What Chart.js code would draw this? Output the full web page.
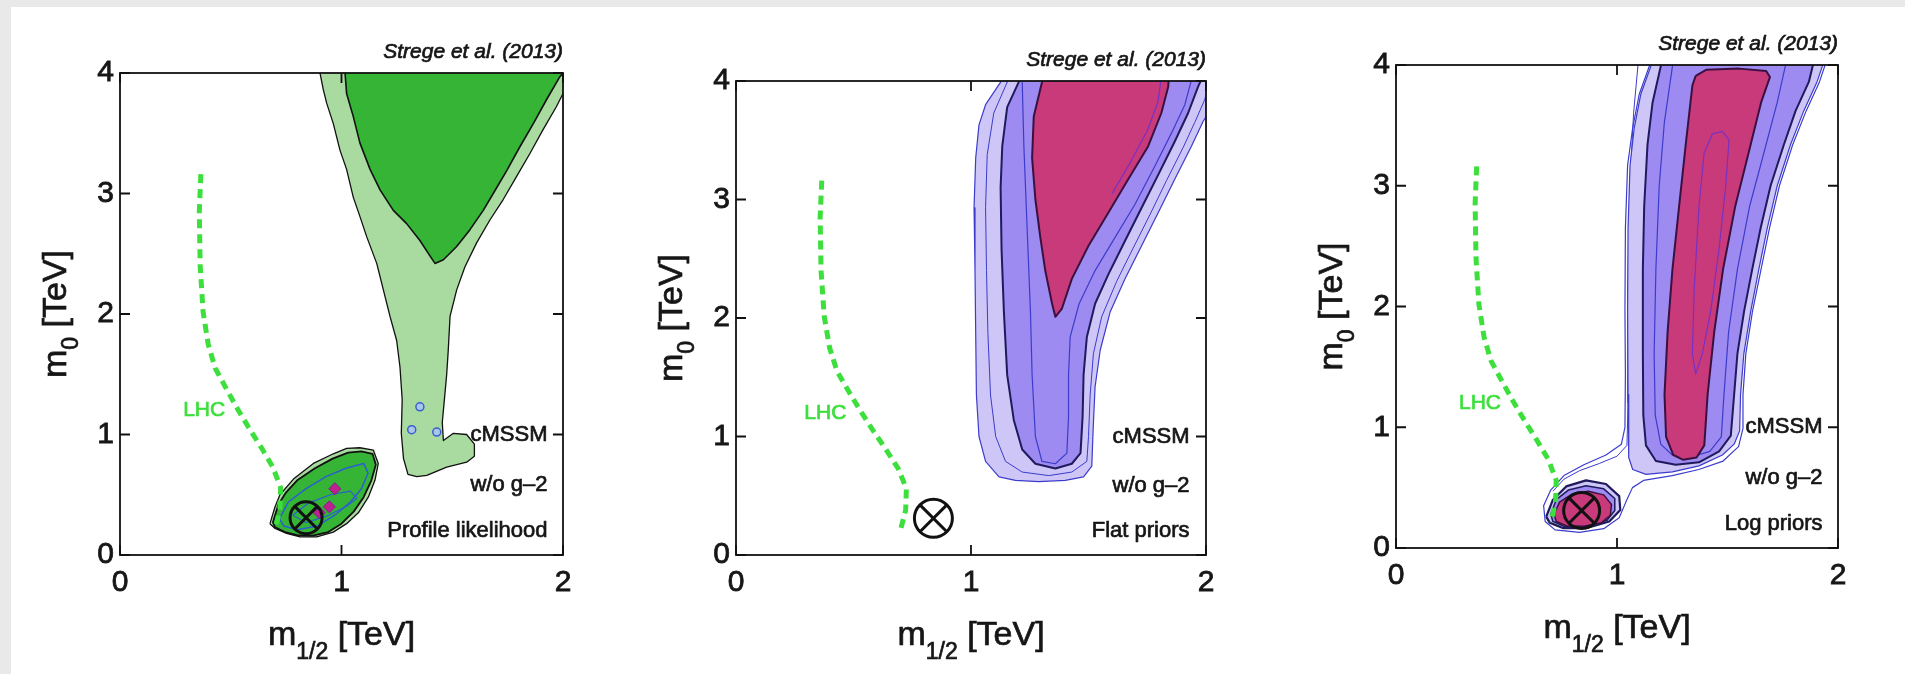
<!DOCTYPE html>
<html>
<head>
<meta charset="utf-8">
<script src="https://cdn.jsdelivr.net/npm/chart.js@4.4.1/dist/chart.umd.min.js"></script>
<style>
  html, body { margin: 0; padding: 0; background: #e9e9e9; }
  body { width: 1905px; height: 674px; position: relative; overflow: hidden; }
  .sheet { position: absolute; left: 11px; top: 7px; right: 0; bottom: 0; background: #fff; }
  canvas { position: absolute; top: 0; }
</style>
</head>
<body>
<div class="sheet"></div>
<canvas id="p1" width="583" height="674" style="left:0px"></canvas>
<canvas id="p2" width="612" height="674" style="left:616px"></canvas>
<canvas id="p3" width="583" height="674" style="left:1276px"></canvas>
<script>
// ---- axes / labels ----
const X_TICKS = [0, 1, 2];
const Y_TICKS = [0, 1, 2, 3, 4];
const NOTE_X = 1.93;
const NOTE_Y = [1.0, 0.58, 0.2];
const LHC_LABEL = { x: 0.38, y: 1.2 };
const BEST_FIT = [{ x: 0.84, y: 0.31 }];

// LHC exclusion limit (same in every panel)
const LHC_LIMIT = [
  {x:0.365,y:3.16},{x:0.358,y:2.85},{x:0.362,y:2.40},{x:0.375,y:2.02},{x:0.398,y:1.75},
  {x:0.43,y:1.55},{x:0.48,y:1.38},{x:0.525,y:1.23},{x:0.58,y:1.06},{x:0.635,y:0.90},
  {x:0.69,y:0.73},{x:0.725,y:0.56},{x:0.722,y:0.38},{x:0.70,y:0.21}
];

// ---- panel 1: profile likelihood ----
const P1_LIGHT = [
  {x:0.903,y:4.1},{x:0.903,y:4.0},{x:0.918,y:3.86},{x:0.933,y:3.75},{x:0.963,y:3.58},{x:0.993,y:3.36},
  {x:1.023,y:3.2},{x:1.053,y:2.97},{x:1.083,y:2.81},{x:1.114,y:2.64},{x:1.159,y:2.42},{x:1.189,y:2.2},
  {x:1.219,y:1.98},{x:1.249,y:1.78},{x:1.264,y:1.56},{x:1.274,y:1.29},{x:1.27,y:1.01},{x:1.28,y:0.8},
  {x:1.30,y:0.67},{x:1.34,y:0.65},{x:1.385,y:0.66},{x:1.475,y:0.73},{x:1.565,y:0.77},{x:1.60,y:0.82},
  {x:1.60,y:0.92},{x:1.565,y:1.0},{x:1.505,y:1.01},{x:1.46,y:0.95},{x:1.455,y:1.1},{x:1.465,y:1.3},
  {x:1.475,y:1.5},{x:1.482,y:1.70},{x:1.49,y:1.98},{x:1.52,y:2.2},{x:1.557,y:2.39},{x:1.61,y:2.59},
  {x:1.67,y:2.78},{x:1.73,y:2.95},{x:1.79,y:3.14},{x:1.85,y:3.33},{x:1.91,y:3.53},{x:1.97,y:3.72},
  {x:2.0,y:3.83},{x:2.05,y:3.95},{x:2.05,y:4.1}
];
const P1_DARK = [
  {x:1.016,y:4.1},{x:1.016,y:4.0},{x:1.023,y:3.83},{x:1.053,y:3.64},{x:1.083,y:3.42},{x:1.129,y:3.2},
  {x:1.174,y:3.03},{x:1.234,y:2.86},{x:1.294,y:2.75},{x:1.354,y:2.61},{x:1.40,y:2.48},{x:1.422,y:2.42},
  {x:1.46,y:2.45},{x:1.52,y:2.56},{x:1.58,y:2.70},{x:1.64,y:2.86},{x:1.685,y:3.0},{x:1.746,y:3.19},
  {x:1.806,y:3.39},{x:1.866,y:3.58},{x:1.926,y:3.78},{x:1.986,y:3.97},{x:2.05,y:4.1}
];
const P1_BLOB_LIGHT = [
  {x:0.677,y:0.26},{x:0.70,y:0.40},{x:0.722,y:0.50},{x:0.783,y:0.63},{x:0.873,y:0.76},{x:0.963,y:0.84},
  {x:1.023,y:0.885},{x:1.083,y:0.89},{x:1.144,y:0.87},{x:1.166,y:0.76},{x:1.151,y:0.62},{x:1.121,y:0.48},
  {x:1.076,y:0.35},{x:1.023,y:0.26},{x:0.963,y:0.19},{x:0.888,y:0.15},{x:0.813,y:0.15},{x:0.752,y:0.18},
  {x:0.70,y:0.22},{x:0.677,y:0.26}
];
const P1_BLOB_DARK = [
  {x:0.69,y:0.27},{x:0.715,y:0.42},{x:0.75,y:0.52},{x:0.80,y:0.62},{x:0.88,y:0.72},{x:0.96,y:0.80},
  {x:1.03,y:0.85},{x:1.09,y:0.86},{x:1.14,y:0.84},{x:1.155,y:0.75},{x:1.135,y:0.62},{x:1.10,y:0.48},
  {x:1.055,y:0.36},{x:1.0,y:0.26},{x:0.94,y:0.19},{x:0.87,y:0.16},{x:0.80,y:0.165},{x:0.745,y:0.19},
  {x:0.70,y:0.23},{x:0.69,y:0.27}
];
const P1_BLOB_RING = [
  {x:0.72,y:0.30},{x:0.76,y:0.44},{x:0.84,y:0.55},{x:0.93,y:0.65},{x:1.02,y:0.72},{x:1.10,y:0.76},
  {x:1.12,y:0.68},{x:1.09,y:0.55},{x:1.04,y:0.44},{x:0.97,y:0.33},{x:0.89,y:0.24},{x:0.80,y:0.21},
  {x:0.74,y:0.24},{x:0.72,y:0.30}
];
const P1_BLOB_CORE = [
  {x:0.78,y:0.33},{x:0.85,y:0.43},{x:0.95,y:0.50},{x:1.04,y:0.53},{x:1.07,y:0.47},{x:1.02,y:0.40},
  {x:0.93,y:0.32},{x:0.84,y:0.27},{x:0.78,y:0.33}
];
const P1_PEAKS = [{x:0.97,y:0.55},{x:0.945,y:0.40},{x:0.90,y:0.35}];
const P1_BLUE_SPOTS = [{x:1.354,y:1.23},{x:1.317,y:1.04},{x:1.43,y:1.02},{x:1.106,y:0.54}];

// ---- panel 2: flat priors ----
const P2_OUTER = [
  {x:1.126,y:4.1},{x:1.126,y:3.99},{x:1.062,y:3.80},{x:1.034,y:3.63},{x:1.02,y:3.35},{x:1.013,y:2.93},
  {x:1.017,y:2.40},{x:1.02,y:1.87},{x:1.023,y:1.35},{x:1.034,y:1.0},{x:1.062,y:0.79},{x:1.119,y:0.66},
  {x:1.189,y:0.63},{x:1.288,y:0.62},{x:1.401,y:0.63},{x:1.479,y:0.66},{x:1.514,y:0.75},{x:1.52,y:1.07},
  {x:1.528,y:1.42},{x:1.55,y:1.73},{x:1.592,y:2.05},{x:1.655,y:2.33},{x:1.726,y:2.61},{x:1.797,y:2.89},
  {x:1.867,y:3.17},{x:1.938,y:3.45},{x:1.988,y:3.66},{x:2.05,y:3.85},{x:2.05,y:4.1}
];
const P2_RING = [
  {x:1.154,y:4.1},{x:1.154,y:3.99},{x:1.097,y:3.73},{x:1.069,y:3.38},{x:1.062,y:2.93},{x:1.066,y:2.40},
  {x:1.072,y:1.87},{x:1.083,y:1.35},{x:1.105,y:1.0},{x:1.147,y:0.79},{x:1.218,y:0.70},{x:1.331,y:0.67},
  {x:1.429,y:0.70},{x:1.493,y:0.79},{x:1.50,y:1.0},{x:1.507,y:1.35},{x:1.521,y:1.70},{x:1.556,y:2.01},
  {x:1.62,y:2.31},{x:1.69,y:2.59},{x:1.761,y:2.87},{x:1.832,y:3.16},{x:1.903,y:3.44},{x:1.952,y:3.65},
  {x:1.994,y:3.84},{x:2.03,y:4.1}
];
const P2_MID = [
  {x:1.203,y:4.1},{x:1.203,y:3.99},{x:1.154,y:3.78},{x:1.133,y:3.45},{x:1.126,y:3.10},{x:1.13,y:2.58},
  {x:1.14,y:2.05},{x:1.154,y:1.52},{x:1.182,y:1.14},{x:1.218,y:0.89},{x:1.274,y:0.77},{x:1.359,y:0.73},
  {x:1.429,y:0.77},{x:1.466,y:0.86},{x:1.475,y:1.17},{x:1.479,y:1.52},{x:1.493,y:1.84},{x:1.528,y:2.12},
  {x:1.585,y:2.37},{x:1.655,y:2.65},{x:1.726,y:2.93},{x:1.797,y:3.21},{x:1.867,y:3.49},{x:1.924,y:3.73},
  {x:1.966,y:3.95},{x:2.0,y:4.1}
];
const P2_MID_LINE = [
  {x:1.218,y:4.1},{x:1.218,y:3.99},{x:1.225,y:3.45},{x:1.239,y:2.75},{x:1.253,y:2.05},{x:1.26,y:1.52},
  {x:1.274,y:1.0},{x:1.302,y:0.79},{x:1.359,y:0.77},{x:1.408,y:0.86},{x:1.415,y:1.17},{x:1.415,y:1.52},
  {x:1.422,y:1.84},{x:1.46,y:2.12},{x:1.528,y:2.40},{x:1.613,y:2.68},{x:1.698,y:2.96},{x:1.782,y:3.28},
  {x:1.853,y:3.56},{x:1.91,y:3.80},{x:1.95,y:4.1}
];
const P2_CORE = [
  {x:1.302,y:4.1},{x:1.302,y:3.99},{x:1.267,y:3.70},{x:1.26,y:3.35},{x:1.274,y:3.0},{x:1.295,y:2.68},
  {x:1.316,y:2.40},{x:1.345,y:2.12},{x:1.359,y:2.01},{x:1.387,y:2.08},{x:1.429,y:2.33},{x:1.50,y:2.61},
  {x:1.585,y:2.89},{x:1.669,y:3.17},{x:1.754,y:3.45},{x:1.81,y:3.73},{x:1.839,y:3.95},{x:1.845,y:4.1}
];
const P2_CORE_LINE = [{x:1.60,y:3.05},{x:1.68,y:3.32},{x:1.75,y:3.58},{x:1.795,y:3.82},{x:1.815,y:4.1}];

// ---- panel 3: log priors ----
const P3_ENVELOPE = [
  {x:1.146,y:4.1},{x:1.146,y:3.99},{x:1.101,y:3.76},{x:1.071,y:3.48},{x:1.048,y:3.17},{x:1.038,y:2.65},
  {x:1.036,y:1.96},{x:1.038,y:1.44},{x:1.036,y:1.0},{x:1.02,y:0.86},{x:0.95,y:0.77},{x:0.85,y:0.69},
  {x:0.76,y:0.60},{x:0.70,y:0.48},{x:0.668,y:0.35},{x:0.675,y:0.22},{x:0.72,y:0.15},{x:0.83,y:0.13},
  {x:0.94,y:0.16},{x:1.01,y:0.25},{x:1.04,y:0.38},{x:1.07,y:0.50},{x:1.12,y:0.56},{x:1.25,y:0.60},
  {x:1.37,y:0.65},{x:1.48,y:0.72},{x:1.55,y:0.84},{x:1.57,y:0.99},{x:1.57,y:1.27},{x:1.583,y:1.61},
  {x:1.613,y:1.96},{x:1.652,y:2.31},{x:1.69,y:2.65},{x:1.735,y:3.0},{x:1.795,y:3.34},{x:1.856,y:3.62},
  {x:1.916,y:3.86},{x:1.96,y:4.1}
];
const P3_SHELL = [
  {x:1.10,y:4.1},{x:1.075,y:3.6},{x:1.058,y:3.0},{x:1.05,y:2.2},{x:1.05,y:1.2},{x:1.045,y:0.85},
  {x:1.0,y:0.76},{x:0.92,y:0.70},{x:0.83,y:0.64},{x:0.76,y:0.57},{x:0.71,y:0.47}
];
const P3_LIGHT = [
  {x:1.153,y:4.1},{x:1.153,y:3.99},{x:1.108,y:3.76},{x:1.078,y:3.48},{x:1.059,y:3.17},{x:1.05,y:2.65},
  {x:1.048,y:1.96},{x:1.05,y:1.27},{x:1.053,y:0.75},{x:1.071,y:0.65},{x:1.131,y:0.61},{x:1.251,y:0.63},
  {x:1.371,y:0.68},{x:1.477,y:0.77},{x:1.53,y:0.86},{x:1.555,y:0.97},{x:1.559,y:1.27},{x:1.574,y:1.61},
  {x:1.605,y:1.96},{x:1.642,y:2.31},{x:1.68,y:2.65},{x:1.725,y:3.0},{x:1.785,y:3.34},{x:1.845,y:3.62},
  {x:1.905,y:3.86},{x:1.95,y:4.1}
];
const P3_MID = [
  {x:1.198,y:4.1},{x:1.198,y:3.99},{x:1.161,y:3.69},{x:1.138,y:3.34},{x:1.123,y:2.83},{x:1.117,y:2.31},
  {x:1.117,y:1.61},{x:1.119,y:1.10},{x:1.131,y:0.85},{x:1.176,y:0.72},{x:1.266,y:0.69},{x:1.371,y:0.71},
  {x:1.462,y:0.80},{x:1.515,y:0.93},{x:1.53,y:1.27},{x:1.545,y:1.61},{x:1.575,y:1.96},{x:1.612,y:2.31},
  {x:1.65,y:2.65},{x:1.695,y:3.0},{x:1.755,y:3.34},{x:1.808,y:3.62},{x:1.868,y:3.86},{x:1.90,y:4.1}
];
const P3_MID_LINE = [
  {x:1.251,y:4.1},{x:1.251,y:3.99},{x:1.214,y:3.52},{x:1.191,y:3.0},{x:1.176,y:2.31},{x:1.168,y:1.61},
  {x:1.173,y:1.10},{x:1.198,y:0.86},{x:1.25,y:0.77},{x:1.33,y:0.75},{x:1.42,y:0.80},{x:1.472,y:0.92},
  {x:1.484,y:1.27},{x:1.505,y:1.79},{x:1.545,y:2.31},{x:1.60,y:2.83},{x:1.66,y:3.24},{x:1.725,y:3.69},
  {x:1.775,y:4.1}
];
const P3_CORE = [
  {x:1.356,y:3.91},{x:1.341,y:3.83},{x:1.311,y:3.34},{x:1.281,y:2.83},{x:1.251,y:2.31},{x:1.229,y:1.79},
  {x:1.215,y:1.27},{x:1.222,y:0.92},{x:1.255,y:0.77},{x:1.30,y:0.73},{x:1.36,y:0.75},{x:1.395,y:0.85},
  {x:1.41,y:1.27},{x:1.44,y:1.79},{x:1.48,y:2.31},{x:1.535,y:2.83},{x:1.595,y:3.27},{x:1.652,y:3.69},
  {x:1.692,y:3.90},{x:1.675,y:3.95},{x:1.552,y:3.97},{x:1.403,y:3.96},{x:1.356,y:3.91}
];
const P3_CORE_LINE = [
  {x:1.477,y:3.45},{x:1.507,y:3.38},{x:1.492,y:3.0},{x:1.462,y:2.48},{x:1.424,y:1.96},{x:1.386,y:1.61},
  {x:1.356,y:1.44},{x:1.341,y:1.61},{x:1.349,y:2.13},{x:1.371,y:2.83},{x:1.394,y:3.27},{x:1.432,y:3.43},
  {x:1.477,y:3.45}
];
const P3_BLOB_LIGHT = [
  {x:0.68,y:0.26},{x:0.71,y:0.40},{x:0.77,y:0.51},{x:0.86,y:0.56},{x:0.95,y:0.53},{x:1.01,y:0.43},
  {x:1.015,y:0.315},{x:0.965,y:0.22},{x:0.86,y:0.165},{x:0.755,y:0.165},{x:0.695,y:0.21},{x:0.68,y:0.26}
];
const P3_BLOB_MID = [
  {x:0.70,y:0.28},{x:0.725,y:0.40},{x:0.78,y:0.48},{x:0.86,y:0.515},{x:0.94,y:0.49},{x:0.99,y:0.41},
  {x:0.99,y:0.31},{x:0.955,y:0.23},{x:0.86,y:0.18},{x:0.76,y:0.18},{x:0.71,y:0.22},{x:0.70,y:0.28}
];
const P3_BLOB_CORE = [
  {x:0.715,y:0.28},{x:0.74,y:0.38},{x:0.80,y:0.45},{x:0.87,y:0.47},{x:0.94,y:0.44},{x:0.975,y:0.36},
  {x:0.97,y:0.27},{x:0.93,y:0.21},{x:0.85,y:0.18},{x:0.77,y:0.185},{x:0.725,y:0.22},{x:0.715,y:0.28}
];

// ---- styling ----
const FONT = "'Liberation Sans', Arial, Helvetica, sans-serif";
const INK = '#161616';
const LIGHT_GREEN = '#a9dba1';
const DARK_GREEN = '#36b436';
const LAVENDER = '#cdc6f6';
const PURPLE = '#9d8bf1';
const PINK = '#c93a7b';
const NAVY = '#1e1a5c';
const THIN_BLUE = '#3c3ccc';
const LHC_GREEN = '#3ddf3d';

function region(data, fill, line, width) {
  return {
    data, fill: fill ? 'shape' : false, backgroundColor: fill || 'rgba(0,0,0,0)',
    borderColor: line, borderWidth: width, pointRadius: 0, tension: 0, borderJoinStyle: 'round'
  };
}
function spots(data, style, r, fill, line, width) {
  return {
    data, showLine: false, pointStyle: style, pointRadius: r,
    pointBackgroundColor: fill, pointBorderColor: line, pointBorderWidth: width
  };
}
function limitLine() {
  return { data: LHC_LIMIT, borderColor: LHC_GREEN, borderWidth: 5, borderDash: [9, 6], pointRadius: 0, fill: false };
}
function bestFit(r) {
  return [
    spots(BEST_FIT, 'circle', r, 'rgba(0,0,0,0)', '#111', 3),
    spots(BEST_FIT, 'crossRot', r, 'rgba(0,0,0,0)', '#111', 3)
  ];
}

// filled text with a faint outline so it reads as heavy as the scanned figure
function heavyText(ctx, t, x, y) {
  ctx.fillText(t, x, y);
  ctx.lineWidth = 0.7;
  ctx.strokeStyle = ctx.fillStyle;
  ctx.strokeText(t, x, y);
}

// text with a subscript, centred on x, baseline at y
function richText(ctx, parts, x, y) {
  let w = 0;
  parts.forEach(p => { ctx.font = p[1] + 'px ' + FONT; w += ctx.measureText(p[0]).width; });
  let cx = x - w / 2;
  ctx.textAlign = 'left';
  ctx.textBaseline = 'alphabetic';
  parts.forEach(p => {
    ctx.font = p[1] + 'px ' + FONT;
    heavyText(ctx, p[0], cx, y + p[2]);
    cx += ctx.measureText(p[0]).width;
  });
}

const decor = {
  id: 'decor',
  afterDraw(chart, args, o) {
    const { ctx, chartArea: a, scales: { x, y } } = chart;
    ctx.save();
    // box + inward ticks
    ctx.strokeStyle = '#111';
    ctx.lineWidth = 1.8;
    ctx.strokeRect(a.left, a.top, a.right - a.left, a.bottom - a.top);
    ctx.beginPath();
    X_TICKS.forEach(v => {
      const px = x.getPixelForValue(v);
      ctx.moveTo(px, a.bottom); ctx.lineTo(px, a.bottom - 10);
      ctx.moveTo(px, a.top); ctx.lineTo(px, a.top + 10);
    });
    Y_TICKS.forEach(v => {
      const py = y.getPixelForValue(v);
      ctx.moveTo(a.left, py); ctx.lineTo(a.left + 10, py);
      ctx.moveTo(a.right, py); ctx.lineTo(a.right - 10, py);
    });
    ctx.stroke();

    ctx.fillStyle = INK;
    // axis titles
    richText(ctx, [['m', 34, 0], ['1/2', 23, 14], [' [TeV]', 34, 0]], (a.left + a.right) / 2, a.bottom + 90);
    ctx.save();
    ctx.translate(a.left - 54, (a.top + a.bottom) / 2);
    ctx.rotate(-Math.PI / 2);
    richText(ctx, [['m', 34, 0], ['0', 23, 12], [' [TeV]', 34, 0]], 0, 0);
    ctx.restore();

    // citation
    ctx.fillStyle = INK;
    ctx.font = 'italic 21px ' + FONT;
    ctx.textAlign = 'right';
    ctx.textBaseline = 'alphabetic';
    heavyText(ctx, o.cite, a.right, a.top - 15);

    // notes in the lower right corner
    ctx.font = '22px ' + FONT;
    ctx.textBaseline = 'middle';
    o.notes.forEach((t, i) => heavyText(ctx, t, x.getPixelForValue(NOTE_X), y.getPixelForValue(NOTE_Y[i])));

    // LHC label
    ctx.fillStyle = LHC_GREEN;
    ctx.font = '21px ' + FONT;
    ctx.textAlign = 'center';
    heavyText(ctx, 'LHC', x.getPixelForValue(LHC_LABEL.x), y.getPixelForValue(LHC_LABEL.y));
    ctx.restore();
  }
};

function makePanel(id, top, bottom, layers, notes) {
  const datasets = layers.map((d, i) => Object.assign({ order: layers.length - i, clip: 0 }, d));
  const tickFont = { family: FONT, size: 30 };
  const tickStyle = { font: tickFont, color: INK, textStrokeColor: INK, textStrokeWidth: 0.8, autoSkip: false };
  new Chart(document.getElementById(id), {
    type: 'line',
    data: { datasets },
    options: {
      responsive: false,
      devicePixelRatio: 1,
      animation: false,
      events: [],
      layout: { padding: { top: top, right: 20, bottom: 0, left: 0 } },
      plugins: {
        legend: { display: false },
        tooltip: { enabled: false },
        decor: { cite: 'Strege et al. (2013)', notes }
      },
      scales: {
        x: {
          type: 'linear', min: 0, max: 2,
          afterBuildTicks: s => { s.ticks = X_TICKS.map(v => ({ value: v })); },
          afterFit: s => { s.height = 674 - bottom; },
          grid: { display: false, drawTicks: false },
          border: { display: false },
          ticks: Object.assign({ padding: 10, maxRotation: 0 }, tickStyle)
        },
        y: {
          type: 'linear', min: 0, max: 4,
          afterBuildTicks: s => { s.ticks = Y_TICKS.map(v => ({ value: v })); },
          afterFit: s => { s.width = 120; },
          grid: { display: false, drawTicks: false },
          border: { display: false },
          ticks: Object.assign({ padding: 6 }, tickStyle)
        }
      }
    },
    plugins: [decor]
  });
}

makePanel('p1', 73, 555, [
  region(P1_LIGHT, LIGHT_GREEN, '#111', 1.3),
  region(P1_DARK, DARK_GREEN, '#111', 1.6),
  spots(P1_BLUE_SPOTS, 'circle', 4, 'rgba(170,195,240,0.9)', '#3a5fd0', 1.5),
  region(P1_BLOB_LIGHT, LIGHT_GREEN, '#111', 1.3),
  region(P1_BLOB_DARK, DARK_GREEN, '#111', 1.8),
  region(P1_BLOB_RING, null, '#2a5fd0', 1.5),
  region(P1_BLOB_CORE, null, '#2a5fd0', 1.2),
  spots(P1_PEAKS, 'rectRot', 6, '#c0208f', '#7a2090', 1),
  limitLine(),
  ...bestFit(16)
], ['cMSSM', 'w/o g\u20132', 'Profile likelihood']);

makePanel('p2', 81, 555, [
  region(P2_OUTER, LAVENDER, THIN_BLUE, 1.2),
  region(P2_RING, null, THIN_BLUE, 1),
  region(P2_MID, PURPLE, NAVY, 2),
  region(P2_MID_LINE, null, THIN_BLUE, 1.2),
  region(P2_CORE, PINK, '#3a1040', 2),
  region(P2_CORE_LINE, null, '#7a30c0', 1.2),
  limitLine(),
  ...bestFit(19)
], ['cMSSM', 'w/o g\u20132', 'Flat priors']);

makePanel('p3', 65, 548, [
  region(P3_ENVELOPE, null, THIN_BLUE, 1.2),
  region(P3_SHELL, null, THIN_BLUE, 1),
  region(P3_LIGHT, LAVENDER, THIN_BLUE, 1.2),
  region(P3_MID, PURPLE, NAVY, 2),
  region(P3_MID_LINE, null, THIN_BLUE, 1.2),
  region(P3_CORE, PINK, '#3a1040', 2),
  region(P3_CORE_LINE, null, '#7a30c0', 1.2),
  region(P3_BLOB_LIGHT, LAVENDER, NAVY, 2.2),
  region(P3_BLOB_MID, PURPLE, NAVY, 1.5),
  region(P3_BLOB_CORE, PINK, '#3a1040', 1.5),
  limitLine(),
  ...bestFit(18)
], ['cMSSM', 'w/o g\u20132', 'Log priors']);
</script>
</body>
</html>
